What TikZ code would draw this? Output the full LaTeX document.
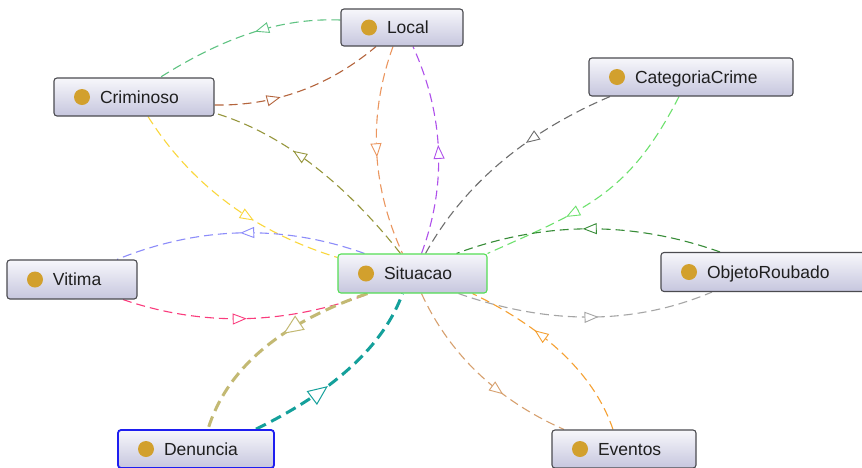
\documentclass[tikz,border=0pt]{standalone}
\usepackage{fontspec}
\setmainfont{Liberation Sans}
\usetikzlibrary{arrows.meta,decorations.markings,calc,backgrounds}

% class boxes
\definecolor{boxline}{RGB}{75,75,80}
\definecolor{boxtop}{RGB}{247,247,251}
\definecolor{boxbot}{RGB}{198,198,222}
\definecolor{dotcol}{RGB}{210,160,45}
\definecolor{selgreen}{RGB}{85,222,85}
\definecolor{selblue}{RGB}{30,30,240}
% relation colours
\definecolor{eGreen}{RGB}{95,195,130}
\definecolor{eBrown}{RGB}{180,100,60}
\definecolor{eOlive}{RGB}{150,150,60}
\definecolor{eYellow}{RGB}{250,215,60}
\definecolor{eOrange}{RGB}{235,150,95}
\definecolor{ePurple}{RGB}{175,80,235}
\definecolor{eGrey}{RGB}{110,110,110}
\definecolor{eLime}{RGB}{110,225,110}
\definecolor{eForest}{RGB}{55,140,55}
\definecolor{eSilver}{RGB}{165,165,165}
\definecolor{eTan}{RGB}{215,160,110}
\definecolor{eAmber}{RGB}{245,160,50}
\definecolor{eLavender}{RGB}{140,140,250}
\definecolor{ePink}{RGB}{250,60,125}
\definecolor{eKhaki}{RGB}{195,185,115}
\definecolor{eTeal}{RGB}{20,160,155}

\newcommand\clsbox[2]{\makebox[#1][l]{\hspace{46pt}#2}}

\tikzset{
  cls/.style={draw=boxline, line width=1.1pt, rounded corners=3pt,
    top color=boxtop, bottom color=boxbot,
    minimum height=38pt, inner sep=0pt,
    text height=12.6pt, text depth=0pt, text=black!88,
    font=\fontsize{17.5}{21}\selectfont,
    path picture={\fill[dotcol] ([xshift=28pt]path picture bounding box.west) circle (8pt);}},
  edge/.style={line width=1.1pt, dash pattern=on 9pt off 5pt},
  heavy/.style={line width=3pt, dash pattern=on 11pt off 6pt},
  headat/.style={postaction={decorate, decoration={markings,
    mark=at position #1 with {\arrow{Triangle[length=14pt,width=11pt,fill=white,line width=0.9pt]}}}}},
  bigheadat/.style={postaction={decorate, decoration={markings,
    mark=at position #1 with {\arrow{Triangle[length=20pt,width=17pt,fill=white,line width=1pt]}}}}},
}

\begin{document}
\begin{tikzpicture}[x=1pt,y=-1pt]
\useasboundingbox (0,0) rectangle (862,467);
\clip (0,0) rectangle (862,467);

% classes
\node[cls, minimum height=37pt] (Local) at (402,27.5) {\clsbox{122pt}{Local}};
\node[cls] (Criminoso) at (134,97) {\clsbox{160pt}{Criminoso}};
\node[cls] (CategoriaCrime) at (691,77) {\clsbox{204pt}{CategoriaCrime}};
\node[cls, minimum height=39pt] (Vitima) at (72,279.5) {\clsbox{130pt}{Vitima}};
\node[cls, minimum height=39pt, draw=selgreen] (Situacao) at (412.5,273.5) {\clsbox{149pt}{Situacao}};
\node[cls, minimum height=39pt] (ObjetoRoubado) at (764,272) {\clsbox{206pt}{ObjetoRoubado}};
\node[cls, draw=selblue, line width=1.8pt] (Denuncia) at (196,449) {\clsbox{156pt}{Denuncia}};
\node[cls] (Eventos) at (624,449) {\clsbox{144pt}{Eventos}};

\begin{scope}[on background layer]
\fill[white] (0,0) rectangle (862,467);

% Local <-> Criminoso
\draw[edge, eGreen, headat=0.45] ($(Local.west)+(0,-7.5)$)
  .. controls (288,18) and (232,32) .. ($(Criminoso.north)+(26,0)$);
\draw[edge, eBrown, headat=0.38] ($(Criminoso.east)+(0,8)$)
  .. controls (274.7,106) and (328.7,86.3) .. ($(Local.south)+(-26,0)$);

% Criminoso <-> Situacao
\draw[edge, eOlive, headat=0.63] ($(Situacao.north)+(-12,0)$)
  .. controls (342,179.7) and (280,132.7) .. ($(Criminoso.east)+(0,16)$);
\draw[edge, eYellow, headat=0.62] ($(Criminoso.south)+(14,0)$)
  .. controls (191.3,185) and (254.7,232) .. ($(Situacao.west)+(0,-16)$);

% Local <-> Situacao
\draw[edge, eOrange, headat=0.53] ($(Local.south)+(-9,0)$)
  .. controls (368,115.3) and (371,184.7) .. ($(Situacao.north)+(-10,0)$);
\draw[edge, ePurple, headat=0.52] ($(Situacao.north)+(9,0)$)
  .. controls (447,184.7) and (444,115.3) .. ($(Local.south)+(11,0)$);

% CategoriaCrime -> Situacao
\draw[edge, eGrey, headat=0.39] ($(CategoriaCrime.south)+(-81,0)$)
  .. controls (525,132.7) and (463.3,185.3) .. ($(Situacao.north)+(13,0)$);
\draw[edge, eLime, headat=0.66] ($(CategoriaCrime.south)+(-12,0)$)
  .. controls (629,194) and (587,209) .. (Situacao.north east);

% ObjetoRoubado <-> Situacao
\draw[edge, eForest, headat=0.52] ($(ObjetoRoubado.north)+(-44,0)$)
  .. controls (632,220.7) and (544,221) .. ($(Situacao.north)+(44,0)$);
\draw[edge, eSilver, headat=0.55] ($(Situacao.south)+(46,0)$)
  .. controls (549.3,325.3) and (634,325) .. ($(ObjetoRoubado.south)+(-52,0)$);

% Eventos <-> Situacao
\draw[edge, eTan, headat=0.65] ($(Situacao.south)+(9,0)$)
  .. controls (449.3,354) and (496.8,399.7) .. ($(Eventos.north)+(-60,0)$);
\draw[edge, eAmber, headat=0.64] ($(Eventos.north)+(-11,0)$)
  .. controls (594.7,375.7) and (547.7,330) .. ($(Situacao.south east)+(-15,0)$);

% Vitima <-> Situacao
\draw[edge, eLavender, headat=0.5] ($(Situacao.north west)+(27,0)$)
  .. controls (282.3,224) and (199.7,226) .. ($(Vitima.north)+(45,0)$);
\draw[edge, ePink, headat=0.5] ($(Vitima.south)+(51,0)$)
  .. controls (203.3,327) and (285.7,325) .. ($(Situacao.south west)+(32,0)$);

% Denuncia <-> Situacao
\draw[heavy, eKhaki, bigheadat=0.43] ($(Situacao.south west)+(30,0)$)
  .. controls (280,323.3) and (226.7,369) .. ($(Denuncia.north)+(12,0)$);
\draw[heavy, eTeal, bigheadat=0.41] ($(Denuncia.north)+(60,0)$)
  .. controls (335.3,390.3) and (384,344.7) .. ($(Situacao.south)+(-10,0)$);
\end{scope}
\end{tikzpicture}
\end{document}
